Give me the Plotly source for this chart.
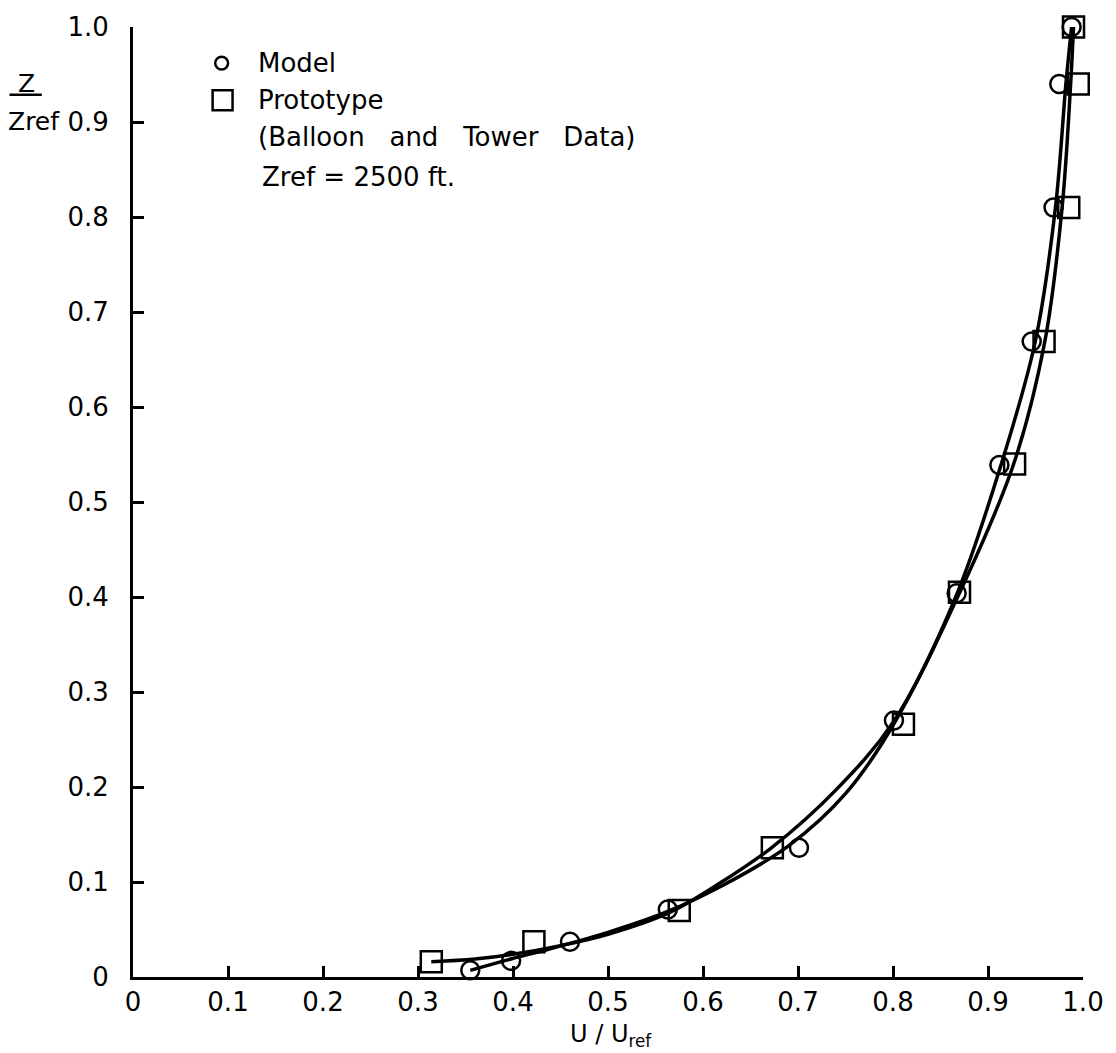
import plotly.graph_objects as go

# Measured points
model_u = [0.355, 0.398, 0.460, 0.563, 0.701, 0.801, 0.867, 0.912, 0.946, 0.969, 0.975, 0.988]
model_z = [0.007, 0.017, 0.037, 0.071, 0.136, 0.270, 0.404, 0.539, 0.669, 0.810, 0.940, 1.000]

proto_u = [0.314, 0.422, 0.575, 0.673, 0.811, 0.870, 0.928, 0.959, 0.985, 0.995, 0.990]
proto_z = [0.016, 0.037, 0.070, 0.136, 0.266, 0.405, 0.540, 0.669, 0.810, 0.940, 1.000]

# Faired profile curves
model_curve_u = [0.355, 0.398, 0.440, 0.500, 0.563, 0.620, 0.690, 0.750, 0.800, 0.866, 0.914, 0.950, 0.971, 0.982, 0.988]
model_curve_z = [0.007, 0.019, 0.030, 0.047, 0.069, 0.096, 0.138, 0.193, 0.265, 0.400, 0.540, 0.670, 0.810, 0.940, 1.000]

proto_curve_u = [0.314, 0.360, 0.400, 0.450, 0.500, 0.565, 0.615, 0.672, 0.740, 0.800, 0.868, 0.927, 0.960, 0.978, 0.987, 0.990]
proto_curve_z = [0.016, 0.019, 0.024, 0.033, 0.045, 0.068, 0.097, 0.136, 0.197, 0.268, 0.400, 0.540, 0.670, 0.810, 0.940, 1.000]

tick_vals = [0, 0.1, 0.2, 0.3, 0.4, 0.5, 0.6, 0.7, 0.8, 0.9, 1.0]
tick_text = ["0", "0.1", "0.2", "0.3", "0.4", "0.5", "0.6", "0.7", "0.8", "0.9", "1.0"]

FONT = "DejaVu Sans"
INK = "black"

fig = go.Figure()

for cu, cz in ((model_curve_u, model_curve_z), (proto_curve_u, proto_curve_z)):
    fig.add_trace(go.Scatter(x=cu, y=cz, mode="lines",
                             line=dict(color=INK, width=3.5, shape="spline", smoothing=1.0),
                             showlegend=False, hoverinfo="skip", cliponaxis=False))

fig.add_trace(go.Scatter(x=proto_u, y=proto_z, mode="markers", name="Prototype",
                         marker=dict(symbol="square-open", size=21, color=INK,
                                     line=dict(width=2.5, color=INK)),
                         showlegend=False, cliponaxis=False))
fig.add_trace(go.Scatter(x=model_u, y=model_z, mode="markers", name="Model",
                         marker=dict(symbol="circle-open", size=18, color=INK,
                                     line=dict(width=2.5, color=INK)),
                         showlegend=False, cliponaxis=False))

# Key symbols (paper coordinates)
KY0 = 0.962
fig.add_shape(type="circle", xref="paper", yref="paper",
              x0=0.0933 - 0.0068, x1=0.0933 + 0.0068, y0=KY0 - 0.0068, y1=KY0 + 0.0068,
              line=dict(color=INK, width=2.5))
fig.add_shape(type="rect", xref="paper", yref="paper",
              x0=0.0943 - 0.0105, x1=0.0943 + 0.0105, y0=KY0 - 0.039 - 0.0105, y1=KY0 - 0.039 + 0.0105,
              line=dict(color=INK, width=2.5))

key_font = dict(family=FONT, size=26, color=INK)
annos = [
    dict(x=0.129, y=KY0, text="Model"),
    dict(x=0.129, y=KY0 - 0.039, text="Prototype"),
    dict(x=0.129, y=KY0 - 0.078, text="(Balloon   and   Tower   Data)"),
    dict(x=0.134, y=KY0 - 0.120, text="Zref = 2500 ft."),
]
for a in annos:
    fig.add_annotation(xref="paper", yref="paper", x=a["x"], y=a["y"], text=a["text"],
                       showarrow=False, xanchor="left", yanchor="middle", font=key_font)

# Axis titles
fig.add_annotation(xref="paper", yref="paper", x=0.503, y=-0.062, text="U / U<sub>ref</sub>",
                   showarrow=False, xanchor="center", yanchor="middle",
                   font=dict(family=FONT, size=24, color=INK))
fig.add_annotation(xref="paper", yref="paper", x=-0.112, y=0.941, text="Z",
                   showarrow=False, xanchor="center", yanchor="middle",
                   font=dict(family=FONT, size=25, color=INK))
fig.add_annotation(xref="paper", yref="paper", x=-0.104, y=0.900, text="Zref",
                   showarrow=False, xanchor="center", yanchor="middle",
                   font=dict(family=FONT, size=25, color=INK))
fig.add_shape(type="line", xref="paper", yref="paper", x0=-0.130, x1=-0.096, y0=0.9287, y1=0.9287,
              line=dict(color=INK, width=2.5))

axis_common = dict(
    showgrid=False, zeroline=False, showline=True, linecolor=INK, linewidth=3,
    ticks="inside", ticklen=11, tickwidth=2.5, tickcolor=INK,
    tickvals=tick_vals, ticktext=tick_text,
    tickfont=dict(family=FONT, size=26, color=INK),
    mirror=False, range=[0, 1.0],
)

fig.update_layout(
    width=1116, height=1053,
    margin=dict(l=133, r=29, t=23, b=76),
    paper_bgcolor="white", plot_bgcolor="white",
    xaxis=dict(ticklabelstandoff=0, **axis_common),
    yaxis=dict(ticklabelstandoff=16, **axis_common),
    showlegend=False,
)

fig.write_html("out.html")
